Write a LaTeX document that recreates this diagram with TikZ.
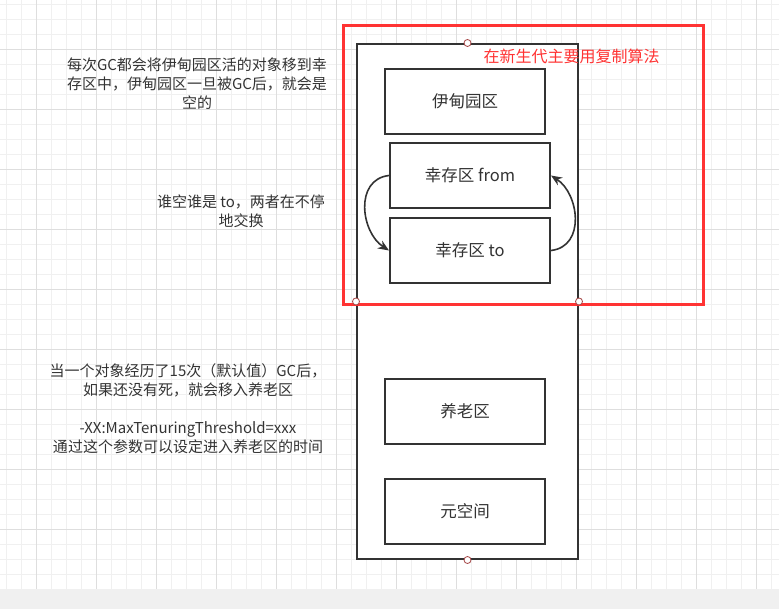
\documentclass[tikz,border=0pt]{standalone}
\usepackage{fontspec}
\setmainfont{Noto Sans CJK SC}
\usetikzlibrary{arrows.meta}
\definecolor{gridminor}{RGB}{240,240,240}
\definecolor{gridmajor}{RGB}{222,222,222}
\definecolor{bandgray}{RGB}{240,240,240}
\definecolor{inkgray}{RGB}{51,51,51}
\definecolor{markred}{RGB}{255,51,51}
\definecolor{handlered}{RGB}{165,70,70}
\begin{document}
\begin{tikzpicture}[x=1pt,y=-1pt,
  area/.style={draw=inkgray,line width=2pt,fill=white,minimum width=160pt,minimum height=65pt,inner sep=0pt,text=inkgray,font=\fontsize{16.5}{20}\selectfont},
  note/.style={align=center,inner sep=0pt,text=inkgray,font=\fontsize{15}{19}\selectfont},
  swap/.style={draw=inkgray,line width=1.6pt,-{Stealth[length=11pt,width=9pt]}},
  handledot/.style={circle,draw=handlered,fill=white,line width=0.8pt,minimum size=7pt,inner sep=0pt}]
\useasboundingbox (0,0) rectangle (779,609);

%Background grid
\fill[bandgray] (0,589) rectangle (779,609);
\foreach \gx in {6.7,21.7,...,779} \draw[gridminor,line width=1pt] (\gx,0) -- (\gx,589);
\foreach \gy in {4.7,19.7,...,580} \draw[gridminor,line width=1pt] (0,\gy) -- (779,\gy);
\foreach \gx in {36.7,96.7,...,779} \draw[gridmajor,line width=1pt] (\gx,0) -- (\gx,589);
\foreach \gy in {49.7,109.7,...,580} \draw[gridmajor,line width=1pt] (0,\gy) -- (779,\gy);

%Shape: Rectangle (heap)
\node[draw=inkgray,line width=2pt,fill=white,minimum width=221pt,minimum height=515pt] (heap) at (467.5,301.5) {};
%Shape: Rectangle (young generation)
\node[draw=markred,line width=3pt,minimum width=360pt,minimum height=279pt] (young) at (523,165.5) {};

%Heap areas
\node[area] (eden) at (465,101.5) {伊甸园区};
\node[area] (from) at (470,175.5) {幸存区 from};
\node[area] (to) at (470,250.5) {幸存区 to};
\node[area] (old) at (465,411.5) {养老区};
\node[area] (meta) at (465,511.5) {元空间};

%Curve Lines
\draw[swap] (from.west) .. controls +(-35,4) and +(-28,-18) .. (to.west);
\draw[swap] (to.east) .. controls +(35,-4) and +(28,18) .. (from.east);

%Handles
\foreach \side in {north,south,west,east}
  \node[handledot] (h-\side) at (heap.\side) {};

% Text Node
\node[inner sep=0pt,text=markred,font=\fontsize{16}{20}\selectfont] (younglabel) at (571.7,56.5) {在新生代主要用复制算法};
% Text Node
\node[note] (edennote) at (197,84) {每次GC都会将伊甸园区活的对象移到幸\\存区中，伊甸园区一旦被GC后，就会是\\空的};
% Text Node
\node[note] (swapnote) at (241,211) {谁空谁是 to，两者在不停\\地交换};
% Text Node
\node[note] (oldnote) at (188,409) {当一个对象经历了15次（默认值）GC后，\\如果还没有死，就会移入养老区\\[19pt]-XX:MaxTenuringThreshold=xxx\\通过这个参数可以设定进入养老区的时间};

\end{tikzpicture}
\end{document}
